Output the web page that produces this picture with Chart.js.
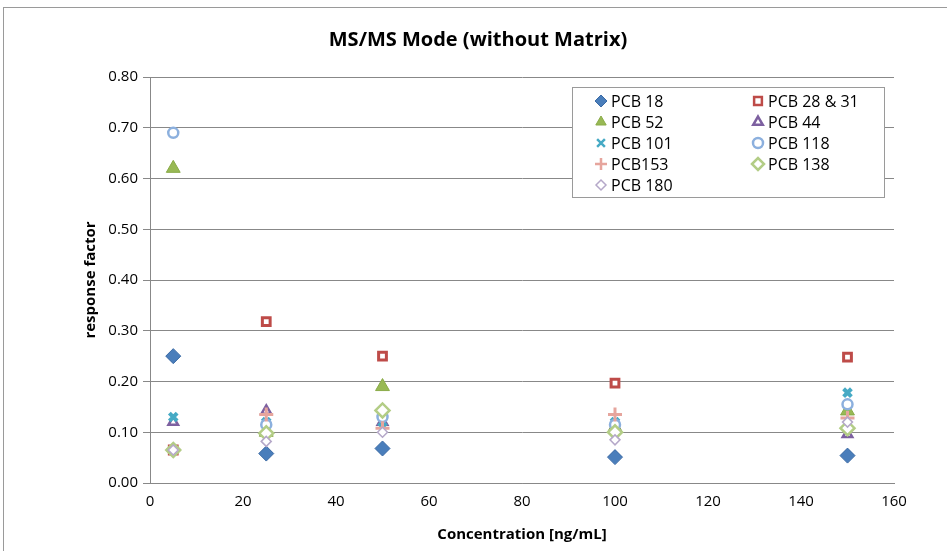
<!DOCTYPE html>
<html>
<head>
<meta charset="utf-8">
<script src="https://cdn.jsdelivr.net/npm/chart.js@4"></script>
<style>
html,body{margin:0;padding:0;background:#fff;}
#wrap{width:947px;height:551px;}
</style>
</head>
<body>
<div id="wrap"><canvas id="c" width="947" height="551"></canvas></div>
<script>
const concentrations = [5, 25, 50, 100, 150];
const pcb18   = [0.25, 0.058, 0.068, 0.051, 0.054];
const pcb2831 = [0.065, 0.318, 0.250, 0.197, 0.248];
const pcb52   = [0.62, 0.10, 0.19, 0.11, 0.142];
const pcb44   = [0.12, 0.142, 0.12, 0.11, 0.096];
const pcb101  = [0.13, 0.12, 0.12, 0.12, 0.178];
const pcb118  = [0.69, 0.115, 0.13, 0.115, 0.155];
const pcb153  = [0.065, 0.135, 0.108, 0.135, 0.128];
const pcb138  = [0.065, 0.098, 0.143, 0.10, 0.108];
const pcb180  = [0.065, 0.082, 0.10, 0.085, 0.12];
const seriesLabels = ['PCB 18','PCB 28 & 31','PCB 52','PCB 44','PCB 101','PCB 118','PCB153','PCB 138','PCB 180'];
const yTicks = [0,0.1,0.2,0.3,0.4,0.5,0.6,0.7,0.8];
const xTicks = [0,20,40,60,80,100,120,140,160];

const FONT = "'Open Sans', 'Liberation Sans', sans-serif";
function pts(arr){ return arr.map((v,i)=>({x:concentrations[i], y:v})); }

const styles = [
  {style:'rectRot', r:7.5, bg:'#4a7ebb', bc:'#3a6aa5', bw:1},
  {style:'rect', r:5.5, bg:'#ffffff', bc:'#be4b48', bw:3},
  {style:'triangle', r:8, bg:'#98b954', bc:'#8aab48', bw:1},
  {style:'triangle', r:5.5, bg:'#ffffff', bc:'#7d60a0', bw:2.5},
  {style:'crossRot', r:5.5, bg:'#46aac5', bc:'#46aac5', bw:4},
  {style:'circle', r:5, bg:'#ffffff', bc:'#8cb0de', bw:2.5},
  {style:'cross', r:7, bg:'#e6a59d', bc:'#e6a59d', bw:3},
  {style:'rectRot', r:7, bg:'#ffffff', bc:'#b3cd86', bw:2.5},
  {style:'rectRot', r:5, bg:'#ffffff', bc:'#b5a8c9', bw:1.5}
];
const dataArrays = [pcb18,pcb2831,pcb52,pcb44,pcb101,pcb118,pcb153,pcb138,pcb180];
const datasets = dataArrays.map((arr,i)=>({
  label: seriesLabels[i],
  data: pts(arr),
  pointStyle: styles[i].style,
  pointRadius: styles[i].r,
  pointHoverRadius: styles[i].r,
  backgroundColor: styles[i].bg,
  borderColor: styles[i].bc,
  borderWidth: styles[i].bw,
  showLine: false,
  order: 9 - i
}));

const frame = {
  id:'frame',
  beforeDraw(chart){
    const ctx = chart.ctx;
    ctx.save();
    ctx.fillStyle = '#fff';
    ctx.fillRect(0,0,chart.width,chart.height);
    ctx.strokeStyle = '#9a9a9a';
    ctx.lineWidth = 1;
    ctx.strokeRect(3.5, 7.5, 1000, 1000);
    ctx.restore();
  }
};

const boxLegend = {
  id:'boxLegend',
  afterDraw(chart){
    const ctx = chart.ctx;
    const x0 = 572.5, y0 = 87.5, w = 312, h = 110;
    ctx.save();
    ctx.fillStyle = '#fff';
    ctx.fillRect(x0,y0,w,h);
    ctx.strokeStyle = '#9a9a9a';
    ctx.lineWidth = 1;
    ctx.strokeRect(x0,y0,w,h);
    ctx.font = "16px " + FONT;
    ctx.textBaseline = 'middle';
    ctx.fillStyle = '#000';
    chart.data.datasets.forEach((ds,i)=>{
      const col = i % 2, row = Math.floor(i/2);
      const mx = col ? 758 : 601;
      const my = 101 + row*21;
      const r = Math.min(ds.pointRadius, 6);
      ctx.save();
      ctx.fillStyle = ds.backgroundColor;
      ctx.strokeStyle = ds.borderColor;
      ctx.lineWidth = Math.min(ds.borderWidth, 2.5);
      Chart.helpers.drawPoint(ctx, {pointStyle: ds.pointStyle, radius: r, borderWidth: ctx.lineWidth, rotation:0}, mx, my);
      ctx.restore();
      ctx.fillStyle = '#000';
      ctx.fillText(ds.label, mx + 10, my + 1);
    });
    ctx.restore();
  }
};

new Chart(document.getElementById('c'), {
  type:'scatter',
  data:{datasets},
  plugins:[frame, boxLegend],
  options:{
    responsive:false,
    animation:false,
    events:[],
    layout:{padding:{left:62, right:53, top:0, bottom:0}},
    plugins:{
      legend:{display:false},
      tooltip:{enabled:false},
      title:{display:true, text:'MS/MS Mode (without Matrix)', color:'#000',
        font:{family:FONT, size:20, weight:'bold'}, padding:{top:28, bottom:25}}
    },
    scales:{
      x:{
        type:'linear', min:0, max:160,
        afterBuildTicks(s){ s.ticks = xTicks.map(v=>({value:v})); },
        afterFit(s){ s.height = 68; },
        grid:{display:false, drawTicks:true, tickLength:6, tickColor:'#888'},
        border:{display:true, color:'#888'},
        ticks:{color:'#000', font:{family:FONT, size:15}, padding:4, maxRotation:0},
        title:{display:true, text:'Concentration [ng/mL]', color:'#000',
          font:{family:FONT, size:15, weight:'bold'}, padding:{top:6, bottom:7}}
      },
      y:{
        type:'linear', min:0, max:0.8,
        afterBuildTicks(s){ s.ticks = yTicks.map(v=>({value:v})); },
        afterFit(s){ s.width = 88; },
        grid:{color:'#888', drawTicks:true, tickLength:7, tickColor:'#888'},
        border:{display:true, color:'#888'},
        ticks:{color:'#000', font:{family:FONT, size:15}, padding:5, callback:v=>Number(v).toFixed(2)},
        title:{display:true, text:'response factor', color:'#000',
          font:{family:FONT, size:15, weight:'bold'}, padding:{top:20, bottom:4}}
      }
    }
  }
});
</script>
</body>
</html>
